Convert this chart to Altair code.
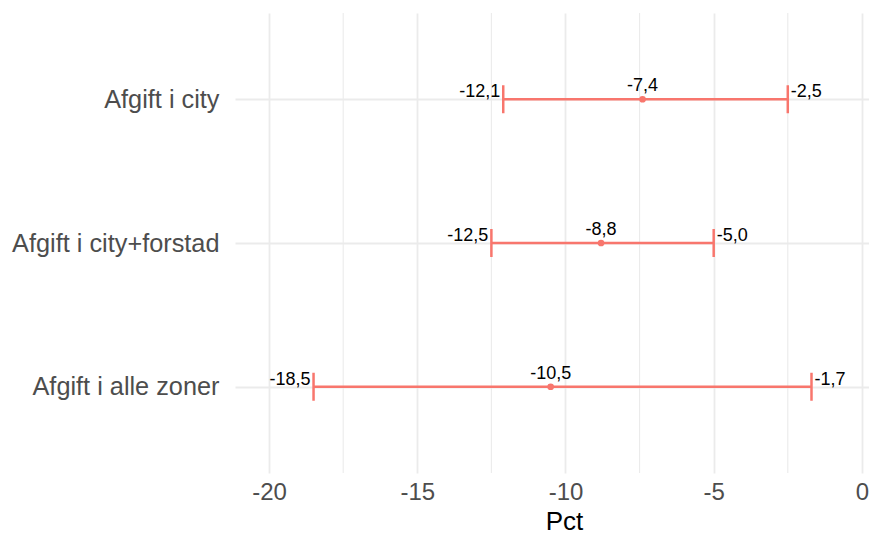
import altair as alt
import pandas as pd

# Data
categories = ["Afgift i city", "Afgift i city+forstad", "Afgift i alle zoner"]
means = [-7.4, -8.8, -10.5]
lows = [-12.1, -12.5, -18.5]
highs = [-2.5, -5.0, -1.7]

major_ticks = [-20, -15, -10, -5, 0]
minor_ticks = [-17.5, -12.5, -7.5, -2.5]

df = pd.DataFrame({"cat": categories, "mean": means, "low": lows, "high": highs})
minor_df = pd.DataFrame({"v": minor_ticks})

FONT = "Liberation Sans"
RED = "#F8766D"
GRID = "#EBEBEB"

x_scale = alt.Scale(domain=[-21.15, 0.24], nice=False, zero=False)
y_scale = alt.Scale(type="point", padding=0.6)
y_sort = categories

base = alt.Chart(df)

x_axis = alt.Axis(
    values=major_ticks, ticks=False, domain=False, grid=True,
    gridColor=GRID, gridWidth=1.8,
    labelFont=FONT, labelFontSize=24, labelColor="#4D4D4D", labelPadding=7,
    labelExpr="replace(datum.label, '\u2212', '-')",
    title="Pct", titleFont=FONT, titleFontSize=26, titleFontWeight="normal",
    titleColor="#000000", titleX=329, titleY=56, titleAlign="center",
    titleBaseline="alphabetic", labelFlush=False,
)
y_axis = alt.Axis(
    ticks=False, domain=False, grid=True, gridColor=GRID, gridWidth=1.8,
    labelFont=FONT, labelFontSize=25.3, labelColor="#4D4D4D", labelPadding=16,
    title=None, labelLimit=400,
)

minor = alt.Chart(minor_df).mark_rule(color=GRID, strokeWidth=1.1).encode(
    x=alt.X("v:Q", scale=x_scale, axis=x_axis)
)

bars = base.mark_rule(color=RED, strokeWidth=2.5).encode(
    x=alt.X("low:Q", scale=x_scale, axis=x_axis),
    x2="high:Q",
    y=alt.Y("cat:N", scale=y_scale, sort=y_sort, axis=y_axis),
)

caps = base.transform_fold(["low", "high"], as_=["which", "val"]).mark_tick(
    color=RED, size=28, thickness=2.5, orient="vertical", opacity=1
).encode(
    x=alt.X("val:Q", scale=x_scale),
    y=alt.Y("cat:N", scale=y_scale, sort=y_sort),
)

points = base.mark_circle(color=RED, size=45, opacity=1).encode(
    x=alt.X("mean:Q", scale=x_scale),
    y=alt.Y("cat:N", scale=y_scale, sort=y_sort),
)

fmt = "replace(replace(format(datum.{f}, '.1f'), '.', ','), '\u2212', '-')"

mean_lbl = base.transform_calculate(lbl=fmt.format(f="mean")).mark_text(
    font=FONT, fontSize=18, color="#000000", align="center",
    baseline="alphabetic", dy=-8
).encode(
    x=alt.X("mean:Q", scale=x_scale),
    y=alt.Y("cat:N", scale=y_scale, sort=y_sort),
    text="lbl:N",
)

low_lbl = base.transform_calculate(lbl=fmt.format(f="low")).mark_text(
    font=FONT, fontSize=18, color="#000000", align="right",
    baseline="alphabetic", dx=-3, dy=-2
).encode(
    x=alt.X("low:Q", scale=x_scale),
    y=alt.Y("cat:N", scale=y_scale, sort=y_sort),
    text="lbl:N",
)

high_lbl = base.transform_calculate(lbl=fmt.format(f="high")).mark_text(
    font=FONT, fontSize=18, color="#000000", align="left",
    baseline="alphabetic", dx=3, dy=-2
).encode(
    x=alt.X("high:Q", scale=x_scale),
    y=alt.Y("cat:N", scale=y_scale, sort=y_sort),
    text="lbl:N",
)

chart = alt.layer(minor, bars, caps, points, mean_lbl, low_lbl, high_lbl).properties(
    width=634,
    height=460,
    autosize="none",
    padding={"left": 227, "top": 5, "right": 0, "bottom": 62},
    background="white",
).configure_view(stroke=None)

chart.save("out.html", embed_options={"renderer": "svg", "actions": False})
